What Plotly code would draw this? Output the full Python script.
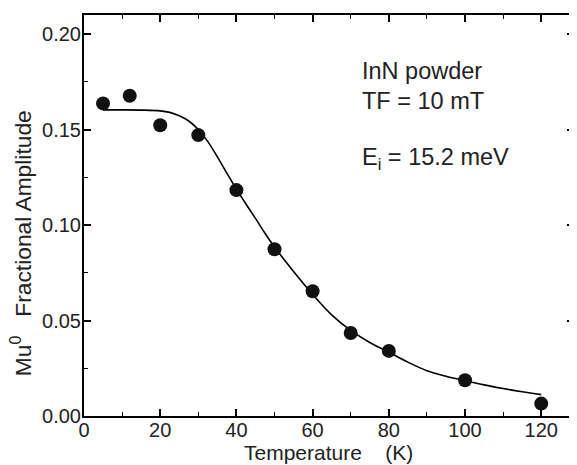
import plotly.graph_objects as go

# Measured data
temp_K = [5, 12, 20, 30, 40, 50, 60, 70, 80, 100, 120]
amplitude = [0.1637, 0.1677, 0.1523, 0.1471, 0.1183, 0.0873, 0.0653, 0.0435, 0.0341, 0.0187, 0.0065]

# Fit curve
fit_T = [5, 10, 15, 20, 22.5, 25, 27.5, 30, 32.5, 35, 37.5, 40, 42.5, 45, 47.5, 50,
         55, 60, 65, 70, 75, 80, 85, 90, 95, 100, 105, 110, 115, 120]
fit_A = [0.1603, 0.1603, 0.1602, 0.1598, 0.1590, 0.1572, 0.1545, 0.1500, 0.1437, 0.1357,
         0.1272, 0.1188, 0.1110, 0.1035, 0.0957, 0.0885, 0.0757, 0.0637, 0.0530, 0.0448,
         0.0385, 0.0334, 0.0282, 0.0237, 0.0208, 0.0185, 0.0163, 0.0144, 0.0127, 0.0112]

x_ticks = [0, 20, 40, 60, 80, 100, 120]
y_ticks = [0.00, 0.05, 0.10, 0.15, 0.20]
y_tick_text = ["0.00", "0.05", "0.10", "0.15", "0.20"]

x_title = "Temperature\u00a0\u00a0\u00a0\u00a0(K)"
y_title = "Mu<sup>0</sup>\u00a0\u00a0\u00a0Fractional Amplitude"
notes = ["InN powder", "TF = 10 mT", "E<sub>i</sub> = 15.2 meV"]
note_y = [0.1805, 0.1650, 0.1347]

FONT = "Liberation Sans, Arial, Helvetica, sans-serif"
TXT = "#222222"

fig = go.Figure()
fig.add_trace(go.Scatter(x=fit_T, y=fit_A, mode="lines", line=dict(color="black", width=1.6, shape="spline"),
                         hoverinfo="skip", showlegend=False))
fig.add_trace(go.Scatter(x=temp_K, y=amplitude, mode="markers",
                         marker=dict(color="#111111", size=14, line=dict(width=0)), showlegend=False))

axis_common = dict(
    showgrid=False, zeroline=False, showline=True, linecolor="black", linewidth=2,
    mirror="ticks", ticks="inside", ticklen=7, tickwidth=1.5, tickcolor="black",
    tickfont=dict(family=FONT, size=20, color=TXT),
)

fig.update_xaxes(range=[0, 128.6], tickvals=x_ticks, ticklabelstandoff=-5,
                 minor=dict(dtick=10, ticks="inside", ticklen=4, tickwidth=1.3, tickcolor="black"),
                 **axis_common)
fig.update_yaxes(range=[0, 0.21], tickvals=y_ticks, ticktext=y_tick_text, ticklabelstandoff=-3,
                 minor=dict(dtick=0.025, ticks="inside", ticklen=4, tickwidth=1.3, tickcolor="black"),
                 **axis_common)

# Axis titles
fig.add_annotation(x=0.498, y=-0.091, xref="paper", yref="paper", text=x_title, showarrow=False,
                   xanchor="center", yanchor="middle", font=dict(family=FONT, size=21, color=TXT))
fig.add_annotation(x=-0.128, y=0.4314, xref="paper", yref="paper", text=y_title, showarrow=False,
                   textangle=-90, xanchor="center", yanchor="middle", font=dict(family=FONT, size=22.8, color=TXT))

ann_font = dict(family=FONT, size=23.5, color=TXT)
for txt, yv in zip(notes, note_y):
    fig.add_annotation(x=72.4, y=yv, text=txt, showarrow=False, xanchor="left", yanchor="middle",
                       font=ann_font, xref="x", yref="y")

# The page body adds an 8 px offset; size and margins compensate for it.
fig.update_layout(
    width=569, height=457,
    margin=dict(l=76, r=1, t=7, b=49),
    plot_bgcolor="white", paper_bgcolor="white",
    showlegend=False,
)

fig.write_html("out.html")
